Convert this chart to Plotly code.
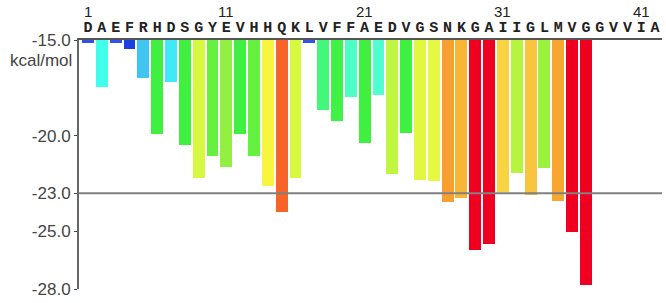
import plotly.graph_objects as go

residues = list("DAEFRHDSGYEVHHQKLVFFAEDVGSNKGAIIGLMVGGVVIA")
positions = list(range(1, 43))
energies = [-15.17, -17.46, -15.16, -15.48, -16.97, -19.89, -17.20, -20.49, -22.18, -21.07,
            -21.61, -19.89, -21.07, -22.63, -23.97, -22.18, -15.16, -18.67, -19.24, -17.98,
            -20.38, -17.89, -22.00, -19.85, -22.32, -22.37, -23.46, -23.24, -25.96, -25.67,
            -22.95, -21.92, -23.10, -21.68, -23.40, -25.04, -27.79, None, None, None,
            None, None]
number_ticks = [1, 11, 21, 31, 41]
y_ticks = [-15.0, -20.0, -23.0, -25.0, -28.0]
y_tick_text = ["-15.0", "-20.0", "-23.0", "-25.0", "-28.0"]
threshold = -23.0
y_min, y_max = -28.0, -15.0

# colour map by energy value
stops = [(-28.0, '#f00020'), (-25.0, '#f00020'), (-24.0, '#f86028'), (-23.45, '#f8a030'),
         (-23.0, '#f8d040'), (-22.6, '#f8f840'), (-22.2, '#d8f840'), (-21.6, '#90f040'),
         (-21.0, '#60f040'), (-20.5, '#40f040'), (-19.3, '#40f040'), (-18.7, '#40f878'),
         (-17.9, '#50ffd0'), (-17.4, '#40fff0'), (-17.2, '#40e8f8'), (-17.0, '#40c8f0'),
         (-15.5, '#1a3fe0'), (-15.0, '#3a5cf0')]
colorscale = [[(v - y_min) / (y_max - y_min), c] for v, c in stops]

fig = go.Figure()
fig.add_trace(go.Bar(
    x=positions, y=energies, width=0.86,
    marker=dict(color=[e if e is not None else y_max for e in energies],
                colorscale=colorscale, cmin=y_min, cmax=y_max, line=dict(width=0)),
    hoverinfo='x+y'))

fig.add_shape(type='line', xref='paper', x0=0, x1=1, yref='y', y0=threshold, y1=threshold,
              line=dict(color='#808080', width=2), layer='above')

for n in number_ticks:
    fig.add_annotation(x=n, xref='x', y=1, yref='paper', yanchor='bottom', yshift=18,
                       text=str(n), showarrow=False,
                       font=dict(family='Liberation Sans', size=15, color='#222'))

fig.add_annotation(x=0, xref='paper', xanchor='right', xshift=-5, y=-15.0, yref='y',
                   yanchor='top', yshift=-9, text='kcal/mol', showarrow=False,
                   font=dict(family='Liberation Sans', size=17, color='#444'))

fig.update_layout(
    width=666, height=303,
    margin=dict(l=79, r=4, t=40, b=14),
    plot_bgcolor='white', paper_bgcolor='white',
    showlegend=False, bargap=0,
    xaxis=dict(side='top', range=[0.35, 42.5], tickmode='array', tickvals=positions,
               ticktext=residues, ticks='', showgrid=False, zeroline=False,
               showline=True, linecolor='#555', linewidth=2, automargin=False,
               tickfont=dict(family='Liberation Mono', size=15, color='#222', weight='bold'),
               ticklabelstandoff=0),
    yaxis=dict(range=[y_min, y_max], tickmode='array', tickvals=y_ticks, ticktext=y_tick_text,
               ticks='outside', ticklen=3, tickwidth=1, tickcolor='#444', automargin=False,
               showgrid=False, zeroline=False, showline=True, linecolor='#666', linewidth=2,
               tickfont=dict(family='Liberation Sans', size=17, color='#444')),
)

fig.write_html("out.html", config={'displayModeBar': False},
               post_script="document.body.style.margin='0px';")
